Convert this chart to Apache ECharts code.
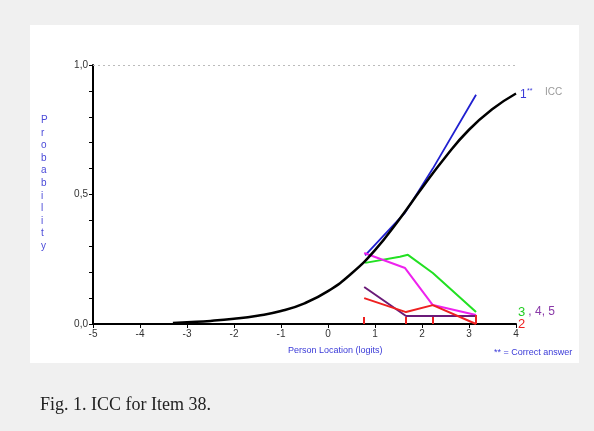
<!DOCTYPE html>
<html>
<head>
<meta charset="utf-8">
<script src="https://cdn.jsdelivr.net/npm/echarts@6/dist/echarts.min.js"></script>
<style>
  html, body { margin: 0; padding: 0; background: #f0f0f0; }
  #chart { width: 594px; height: 431px; }
</style>
</head>
<body>
<div id="chart"></div>
<script>
// values (person location in logits, probability)
const xTicks = [-5, -4, -3, -2, -1, 0, 1, 2, 3, 4];
const yLabels = { "0": "0,0", "0.5": "0,5", "1": "1,0" };

const iccCurve = [
  [-3.3, 0.004], [-3.0, 0.007], [-2.5, 0.012], [-2.0, 0.02], [-1.5, 0.032],
  [-1.0, 0.05], [-0.5, 0.08], [0, 0.127], [0.5, 0.195], [1.0, 0.285],
  [1.5, 0.40], [2.0, 0.525], [2.5, 0.645], [3.0, 0.75], [3.5, 0.83], [4.0, 0.89]
];
const correctObs = [[0.79, 0.265], [1.64, 0.43], [2.23, 0.60], [3.15, 0.885]];
const option3 = [[0.79, 0.236], [1.53, 0.26], [1.70, 0.267], [2.23, 0.197], [3.15, 0.046]];
const option4 = [[0.77, 0.274], [1.64, 0.216], [2.23, 0.073], [3.15, 0.035]];
const option5 = [[0.77, 0.143], [1.66, 0.031], [3.15, 0.031]];
const option2 = [[0.77, 0.10], [1.66, 0.046], [2.23, 0.073], [3.15, 0.0]];
const classBounds = [[0.77, 0.027], [1.66, 0.027], [2.23, 0.027], [3.15, 0.035]];

const chart = echarts.init(document.getElementById("chart"));
const tickFont = "Liberation Sans Narrow, Liberation Sans, Arial, sans-serif";
const blue = "#3a3ad8";

function lineSeries(data, color, width) {
  return {
    type: "line",
    data: data,
    showSymbol: false,
    symbol: "none",
    lineStyle: { color: color, width: width },
    z: 3,
  };
}

const iccSeries = lineSeries(iccCurve, "#000", 2.5);
iccSeries.smooth = true;
iccSeries.z = 4;
iccSeries.markLine = {
  silent: true,
  symbol: "none",
  label: { show: false },
  lineStyle: { color: "#bbb", type: [2, 3], width: 1 },
  data: [[{ coord: [-5, 1] }, { coord: [4, 1] }]],
};

const boundSeries = lineSeries([], "#ee2020", 2);
boundSeries.markLine = {
  silent: true,
  symbol: "none",
  label: { show: false },
  lineStyle: { color: "#ee2020", type: "solid", width: 2 },
  data: classBounds.map((b) => [{ coord: [b[0], 0] }, { coord: [b[0], b[1]] }]),
};

chart.setOption({
  backgroundColor: "#f0f0f0",
  animation: false,
  grid: { left: 93, right: 78, top: 65, bottom: 107 },
  xAxis: {
    type: "value",
    min: -5,
    max: 4,
    interval: 1,
    axisLine: { onZero: false, lineStyle: { color: "#000", width: 2 } },
    axisTick: { length: 4, lineStyle: { color: "#000" } },
    splitLine: { show: false },
    axisLabel: {
      color: "#333",
      fontFamily: tickFont,
      fontSize: 10,
      margin: 5,
      formatter: (v) => (xTicks.indexOf(v) >= 0 ? String(v) : ""),
    },
  },
  yAxis: {
    type: "value",
    min: 0,
    max: 1,
    interval: 0.1,
    axisLine: { show: true, onZero: false, lineStyle: { color: "#000", width: 2 } },
    axisTick: { length: 4, lineStyle: { color: "#000" } },
    splitLine: { show: false },
    axisLabel: {
      color: "#333",
      fontFamily: tickFont,
      fontSize: 10,
      margin: 5,
      formatter: (v) => yLabels[String(Math.round(v * 10) / 10)] || "",
    },
  },
  graphic: [
    {
      type: "rect",
      z: -10,
      silent: true,
      shape: { x: 30, y: 25, width: 549, height: 338 },
      style: { fill: "#fff" },
    },
    {
      type: "text",
      left: 41,
      top: 114,
      style: {
        text: "P\nr\no\nb\na\nb\ni\nl\ni\nt\ny",
        fill: "#4a4ad8",
        font: "10px " + tickFont,
        lineHeight: 12.6,
        align: "center",
      },
    },
    {
      type: "text",
      left: 288,
      top: 346,
      style: { text: "Person Location (logits)", fill: blue, font: "9px " + tickFont },
    },
    {
      type: "text",
      left: 494,
      top: 348,
      style: { text: "** = Correct answer", fill: blue, font: "9px " + tickFont },
    },
    {
      type: "text",
      left: 520,
      top: 89,
      style: { text: "1", fill: blue, font: "12px " + tickFont },
    },
    {
      type: "text",
      left: 527,
      top: 88,
      style: { text: "**", fill: blue, font: "7px " + tickFont },
    },
    {
      type: "text",
      left: 545,
      top: 87,
      style: { text: "ICC", fill: "#999", font: "10px " + tickFont },
    },
    {
      type: "text",
      left: 518,
      top: 306,
      style: { text: "3", fill: "#22cc22", font: "13px " + tickFont },
    },
    {
      type: "text",
      left: 525,
      top: 306,
      style: { text: " , 4, 5", fill: "#8a3aa8", font: "12px " + tickFont },
    },
    {
      type: "text",
      left: 518,
      top: 318,
      style: { text: "2", fill: "#ee2020", font: "13px " + tickFont },
    },
    {
      type: "text",
      left: 40,
      top: 396,
      style: {
        text: "Fig. 1. ICC for Item 38.",
        fill: "#222",
        font: "18px Liberation Serif, Times New Roman, serif",
      },
    },
  ],
  series: [
    iccSeries,
    lineSeries(correctObs, "#2020d0", 1.8),
    lineSeries(option3, "#22e022", 2),
    lineSeries(option4, "#ee22ee", 2),
    lineSeries(option5, "#6a1a78", 2),
    lineSeries(option2, "#ee2020", 2),
    boundSeries,
  ],
});
</script>
</body>
</html>
